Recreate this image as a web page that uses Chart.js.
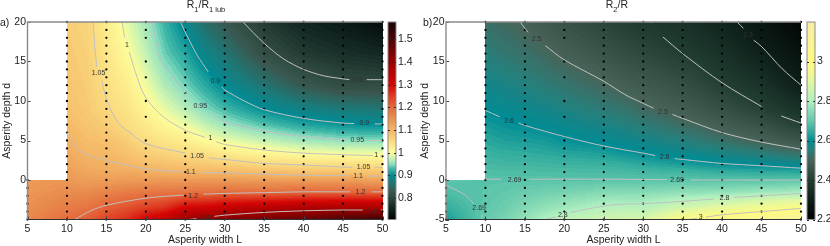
<!DOCTYPE html>
<html>
<head>
<meta charset="utf-8">
<script src="https://cdn.jsdelivr.net/npm/chart.js@4"></script>
<style>
html,body{margin:0;padding:0;background:#fff;width:830px;height:246px;overflow:hidden}
canvas{position:absolute;top:0}
</style>
</head>
<body>
<canvas id="pa" style="left:0" width="415" height="246"></canvas>
<canvas id="ca" style="left:385px" width="33" height="246"></canvas>
<canvas id="pb" style="left:418px" width="412" height="246"></canvas>
<canvas id="cb" style="left:804px" width="26" height="246"></canvas>
<script>
const FONT='"Liberation Sans", Arial, sans-serif';

const widthL=[5,10,12.5,15,17.5,20,22.5,25,27.5,30,35,40,45,50];
const depthD=[-5,-3.5,-1.5,0,1,2,3.5,5,7,9,12,16,20];
const N=null;

// Panel a: R1/R1lub, one column per entry of widthL, ordered as depthD
const a05=[1.16,1.15,1.14,1.135,N,N,N,N,N,N,N,N,N];
const a10=[1.195,1.175,1.155,1.14,1.13,1.125,1.115,1.105,1.095,1.085,1.08,1.075,1.07];
const a12=[1.215,1.185,1.155,1.13,1.12,1.11,1.098,1.09,1.08,1.075,1.07,1.065,1.06];
const a15=[1.24,1.21,1.165,1.13,1.115,1.105,1.095,1.085,1.07,1.055,1.045,1.035,1.025];
const a17=[1.26,1.225,1.175,1.135,1.115,1.098,1.083,1.07,1.048,1.04,1.025,1.005,.99];
const a20=[1.31,1.245,1.18,1.135,1.11,1.09,1.067,1.047,1.03,1.012,.995,.975,.96];
const a22=[1.34,1.26,1.185,1.135,1.105,1.085,1.057,1.035,1.008,.99,.965,.94,.925];
const a25=[1.4,1.305,1.186,1.135,1.1,1.08,1.048,1.023,.993,.97,.943,.918,.89];
const a27=[1.41,1.31,1.19,1.135,1.098,1.075,1.04,1.003,.975,.948,.92,.885,.855];
const a30=[1.43,1.33,1.195,1.135,1.097,1.067,1.026,.993,.957,.93,.895,.865,.83];
const a35=[1.45,1.35,1.195,1.13,1.09,1.054,1.01,.975,.935,.9,.863,.815,.785];
const a40=[1.47,1.365,1.2,1.13,1.085,1.047,.997,.96,.917,.88,.83,.785,.755];
const a45=[1.5,1.375,1.2,1.13,1.08,1.045,.992,.952,.905,.87,.81,.77,.74];
const a50=[1.52,1.375,1.2,1.125,1.08,1.04,.99,.95,.9,.865,.81,.76,.72];
const columnsA=[a05,a10,a12,a15,a17,a20,a22,a25,a27,a30,a35,a40,a45,a50];

// Panel b: R2/R
const b05=[2.62,2.65,2.68,2.695,N,N,N,N,N,N,N,N,N];
const b10=[2.705,2.697,2.693,2.69,2.68,2.67,2.655,2.64,2.618,2.598,2.578,2.55,2.52];
const b12=[2.73,2.715,2.7,2.69,2.678,2.665,2.648,2.628,2.608,2.59,2.568,2.535,2.508];
const b15=[2.765,2.74,2.71,2.69,2.677,2.665,2.645,2.625,2.6,2.583,2.558,2.525,2.495];
const b17=[2.8,2.76,2.718,2.69,2.677,2.663,2.64,2.62,2.593,2.575,2.545,2.51,2.475];
const b20=[2.83,2.78,2.725,2.69,2.676,2.66,2.633,2.607,2.585,2.564,2.532,2.492,2.455];
const b22=[2.845,2.795,2.733,2.69,2.675,2.658,2.63,2.598,2.575,2.553,2.52,2.478,2.44];
const b25=[2.86,2.81,2.742,2.69,2.674,2.655,2.624,2.592,2.567,2.543,2.506,2.462,2.42];
const b27=[2.87,2.815,2.745,2.69,2.672,2.65,2.61,2.585,2.558,2.53,2.49,2.445,2.4];
const b30=[2.875,2.815,2.745,2.69,2.668,2.64,2.6,2.575,2.545,2.51,2.477,2.43,2.385];
const b35=[2.985,2.865,2.755,2.69,2.665,2.625,2.583,2.554,2.515,2.485,2.45,2.4,2.36];
const b40=[3.05,2.91,2.76,2.69,2.65,2.605,2.565,2.525,2.485,2.45,2.405,2.36,2.32];
const b45=[3.08,2.95,2.775,2.69,2.645,2.595,2.545,2.495,2.455,2.41,2.365,2.31,2.27];
const b50=[3.14,2.99,2.785,2.69,2.64,2.585,2.515,2.465,2.405,2.36,2.3,2.26,2.22];
const columnsB=[b05,b10,b12,b15,b17,b20,b22,b25,b27,b30,b35,b40,b45,b50];

// Sampling points: d values measured in each L column
const allD=[-5,-4,-3,-2,-1,0,1,2,3,4,5,6,7,8,9,10,11,12,13,14,15,16,17,18,19,20];
const d5=[-5,-4,-3,-2,-1,0];
const d20=[-5,-4,-3,-2,-1,0,1,2,3,4,5,8,10,13,15,18,19,20];
const dotColumns=[[5,d5],[10,allD],[15,allD],[20,d20],[25,allD],[30,allD],[35,allD],[40,allD],[45,allD],[50,allD]];

// Contours panel a: [L,d], null marks a label gap
const ca080=[[32.3,20],[35,17.3],[37.5,15.3],[40,14],[42.5,13.2],[45,12.8],[45.8,12.7],N,[48,12.7],[50,12.7]];
const ca090=[[24.4,20],[25,18.7],[26.5,15.8],[27.9,13.7],N,[29.6,11.8],[30,11.4],[32.5,10],[35,8.9],[40,7.8],[45,7.2],[46.4,7.15],N,[49,7.1],[50,7.1]];
const ca095=[[20.8,20],[21.8,15.4],[23.5,12.9],[25,11],[25.6,10.4],N,[28.2,8.5],[30,7.4],[35,6.2],[40,5.5],[45,5.1],[45.3,5.1],N,[48.4,5],[50,5]];
const ca100=[[17,20],[17.3,18],N,[17.9,16.2],[18.9,13],[20,10.4],[22.2,8],[25,6.3],[27.5,5.4],N,[28.9,4.85],[30,4.5],[35,3.8],[40,3.4],[45,3.2],[48.8,3.1],N,[49.7,3.05],[50,3]];
const ca105=[[13.3,20],[13.6,16],[13.8,14.3],N,[14.4,12.6],[15.06,10.1],[16.5,7.2],[18,6],[20,4.6],[25,3.4],N,[28,2.8],[30,2.6],[35,2.1],[40,1.9],[45,1.65],[46.2,1.6],N,[49,1.6],[50,1.6]];
const ca110=[[10,6],[11.5,3.8],[13,3],[15,2.5],[20,1.4],[24.5,1.05],N,[27,.95],[30,.9],[35,.75],[40,.6],[45.7,.55],N,[48.1,.5],[50,.5]];
const ca120=[[11,-5],[13,-3.9],[15,-3.2],[20,-2.3],[24.8,-1.9],N,[27.3,-1.8],[30,-1.7],[35,-1.6],[40,-1.5],[45.9,-1.5],N,[48.6,-1.5],[50,-1.5]];
const ca140=[[25.5,-5],[26.4,-4.9],N,[28.7,-4.6],[30,-4.45],[35,-4.1],[40,-3.9],[45,-3.8],[47.5,-3.8],N,[49.8,-3.75],[50,-3.8]];
const contoursA=[ca080,ca090,ca095,ca100,ca105,ca110,ca120,ca140];

// Contours panel b
const cb230=[[41.9,20],[42.7,19.2],N,[44,17.7],[45,16.9],[47.6,14.1],[50,12]];
const cb240=[[30.9,20],[31,19.9],N,[32.5,18.1],[35,16],[40,12.3],[45,9.3],N,[47.5,8.1],[50,7.2]];
const cb250=[[14.4,20],[15,19.2],[15.4,18.7],N,[17.6,17],[20,15.2],[25,12.5],[27.7,10.8],[30,9.7],[31.3,9.1],N,[33.7,8.3],[35,7.8],[40,6],[45,4.8],[50,3.9]];
const cb260=[[10,8.8],[11.8,8],N,[14.2,7.2],[15,6.9],[20,5.5],[25,4.3],[30,3.4],[31.5,3.1],N,[34,2.7],[35,2.6],[40,2.1],[45,1.8],[50,1.5]];
const cb269=[[10,.1],[12,.1],N,[15.5,.1],[25,.1],[33,.05],N,[36,0],[50,0]];
const cb269c=[[5,-.65],[7.4,-1.9],[8.5,-3],N,[9.6,-4.4],[9.5,-5]];
const cb280=[[17.5,-5],[19,-4.65],N,[20.8,-4.1],[25,-3.3],[27.7,-3.05],[30,-3],[35,-2.7],[39,-2.4],N,[41.5,-2.2],[45,-2],[50,-1.7]];
const cb300=[[35.7,-5],[36.8,-4.85],N,[37.9,-4.7],[40,-4.4],[45,-4],[50,-3.6]];
const contoursB=[cb230,cb240,cb250,cb260,cb269,cb269c,cb280,cb300];

// Contour labels [L,d,text]
const labelsA=[[17.6,17.1,'1'],[14,13.5,'1.05'],[28.8,12.5,'0.9'],[26.9,9.35,'0.95'],[28.2,5.3,'1'],[26.5,3,'1.05'],[25.7,1,'1.1'],[26,-2.05,'1.2'],[27.5,-4.85,'1.4'],[46.9,12.65,'0.8'],[47.7,7.2,'0.9'],[46.8,5.05,'0.95'],[49.2,3.15,'1'],[47.6,1.6,'1.05'],[46.9,.5,'1.1'],[47.2,-1.55,'1.2'],[48.7,-3.95,'1.4']];
const labelsB=[[16.5,17.8,'2.5'],[13,7.5,'2.6'],[13.7,.05,'2.69'],[9.2,-3.6,'2.69'],[19.8,-4.5,'2.8'],[31.8,19,'2.4'],[43.3,18.4,'2.3'],[32.5,8.6,'2.5'],[46.1,8.7,'2.4'],[32.7,2.85,'2.6'],[34.3,0,'2.69'],[40.3,-2.3,'2.8'],[37.3,-4.75,'3']];

// Tick labels
const ticksX=[5,10,15,20,25,30,35,40,45,50];
const ticksYA=[0,5,10,15,20];
const ticksYB=[-5,0,5,10,15,20];
const ticksCA=[.8,.9,1,1.1,1.2,1.3,1.4,1.5];
const ticksCB=[2.2,2.4,2.6,2.8,3];
const rangeCA=[.706,1.576];
const rangeCB=[2.2,3.2];

// Colour maps [value, r,g,b]
const cmapA=[[.706,0,2,2],[.75,14,32,28],[.8,44,70,61],[.83,58,88,80],[.87,28,122,120],[.9,0,140,148],[.93,64,184,168],[.95,140,224,192],[.98,208,245,176],[1,253,253,154],[1.05,251,220,128],[1.1,244,181,101],[1.15,234,144,80],[1.2,228,106,60],[1.25,222,58,32],[1.3,213,5,5],[1.4,156,0,0],[1.5,74,5,5],[1.576,28,5,5]];
const cmapB=[[2.2,0,0,0],[2.3,12,30,24],[2.4,34,62,50],[2.5,72,100,88],[2.55,40,126,122],[2.6,0,140,148],[2.65,53,174,158],[2.7,98,200,172],[2.8,176,240,192],[2.9,228,248,160],[3,255,251,128],[3.2,245,238,168]];

function colorOf(map,v){
  if(v<=map[0][0])return map[0];
  for(let i=1;i<map.length;i++){
    if(v<=map[i][0]){
      const a=map[i-1],b=map[i],t=(v-a[0])/(b[0]-a[0]);
      return [v,a[1]+(b[1]-a[1])*t,a[2]+(b[2]-a[2])*t,a[3]+(b[3]-a[3])*t];
    }
  }
  return map[map.length-1];
}
function findCell(arr,v){
  for(let i=0;i<arr.length-1;i++) if(v<=arr[i+1]) return i;
  return arr.length-2;
}
function text(c,s,x,y,font,col,al,bl){
  c.font=font;c.fillStyle=col||'#222';c.textAlign=al||'left';c.textBaseline=bl||'middle';c.fillText(s,x,y);
}

const heatPlugin={id:'heat',beforeDatasetsDraw(chart,args,o){
  const area=chart.chartArea,xs=chart.scales.x,ys=chart.scales.y,c=chart.ctx;
  const x0=Math.round(area.left),y0=Math.round(area.top),w=Math.round(area.right)-x0,h=Math.round(area.bottom)-y0;
  const img=c.createImageData(w,h);
  for(let py=0;py<h;py++){
    const d=ys.getValueForPixel(y0+py+.5),j=findCell(depthD,d);
    const tj=(d-depthD[j])/(depthD[j+1]-depthD[j]);
    for(let px=0;px<w;px++){
      const L=xs.getValueForPixel(x0+px+.5),i=findCell(widthL,L);
      const ti=(L-widthL[i])/(widthL[i+1]-widthL[i]);
      const A=o.cols[i][j],B=o.cols[i+1][j],C=o.cols[i][j+1],D=o.cols[i+1][j+1];
      if(A===null||B===null||C===null||D===null)continue;
      let v=(A*(1-ti)+B*ti)*(1-tj)+(C*(1-ti)+D*ti)*tj;
      v=Math.round(v/o.band)*o.band;
      const col=colorOf(o.map,v),k=(py*w+px)*4;
      img.data[k]=col[1];img.data[k+1]=col[2];img.data[k+2]=col[3];img.data[k+3]=255;
    }
  }
  c.putImageData(img,x0,y0);
},
afterDatasetsDraw(chart,args,o){
  const area=chart.chartArea,xs=chart.scales.x,ys=chart.scales.y,c=chart.ctx;
  o.labels.forEach(l=>text(c,l[2],xs.getPixelForValue(l[0]),ys.getPixelForValue(l[1]),'7px '+FONT,'#333','center'));
  c.save();
  c.strokeStyle='#444';c.lineWidth=1;c.beginPath();
  xs.ticks.forEach(t=>{const p=Math.round(xs.getPixelForValue(t.value))+.5;c.moveTo(p,area.bottom);c.lineTo(p,area.bottom-3);});
  ys.ticks.forEach(t=>{const p=Math.round(ys.getPixelForValue(t.value))+.5;c.moveTo(area.left,p);c.lineTo(area.left+3,p);});
  c.stroke();
  c.strokeStyle='#8a8a8a';c.lineWidth=1.4;c.beginPath();
  c.moveTo(area.left,area.bottom);c.lineTo(area.left,area.top);c.lineTo(area.right,area.top);c.stroke();
  c.strokeStyle='#333';c.lineWidth=1;c.beginPath();
  c.moveTo(area.left,area.bottom);c.lineTo(area.right,area.bottom);c.stroke();
  c.restore();
  o.title(c);
}};

const barPlugin={id:'bar',beforeDatasetsDraw(chart,args,o){
  const area=chart.chartArea,ys=chart.scales.y,c=chart.ctx;
  for(let py=Math.round(area.top);py<Math.round(area.bottom);py++){
    const col=colorOf(o.map,ys.getValueForPixel(py+.5));
    c.fillStyle='rgb('+col[1]+','+col[2]+','+col[3]+')';
    c.fillRect(area.left,py,area.right-area.left,1);
  }
},afterDatasetsDraw(chart){
  const area=chart.chartArea,ys=chart.scales.y,c=chart.ctx;
  c.save();c.strokeStyle='#8a8a8a';c.lineWidth=1;
  c.strokeRect(area.left,area.top,area.right-area.left,area.bottom-area.top);
  c.strokeStyle='#333';c.beginPath();
  ys.ticks.forEach(t=>{const p=Math.round(ys.getPixelForValue(t.value))+.5;c.moveTo(area.right,p);c.lineTo(area.right-2,p);c.moveTo(area.left,p);c.lineTo(area.left+2,p);});
  c.stroke();c.restore();
}};

function panel(id,cols,contours,labels,ticksY,map,band,padR,leftW,title){
  const heat=[];
  widthL.forEach((L,i)=>depthD.forEach((d,j)=>{if(cols[i][j]!==null)heat.push({x:L,y:d,v:cols[i][j]});}));
  const dots=[];
  dotColumns.forEach(dc=>dc[1].forEach(d=>dots.push({x:dc[0],y:d})));
  const ds=[{label:'field',data:heat,pointRadius:0,showLine:false}];
  contours.forEach((ct,i)=>ds.push({label:'contour '+i,data:ct.map(p=>p?{x:p[0],y:p[1]}:{x:null,y:null}),showLine:true,spanGaps:false,tension:.3,borderColor:'#c0c0c0',borderWidth:1,pointRadius:0}));
  ds.push({label:'samples',data:dots,pointRadius:1.15,pointBackgroundColor:'#000',pointBorderWidth:0,showLine:false,clip:false});
  new Chart(document.getElementById(id),{type:'scatter',data:{datasets:ds},plugins:[heatPlugin],options:{
    responsive:false,animation:false,events:[],
    layout:{padding:{top:22,right:padR,left:0,bottom:0}},
    plugins:{legend:{display:false},tooltip:{enabled:false},heat:{cols,map,band,labels,title}},
    scales:{
      x:{type:'linear',min:5,max:50,border:{display:false},grid:{display:false,drawTicks:false},
        afterBuildTicks:s=>{s.ticks=ticksX.map(v=>({value:v}));},
        afterFit:s=>{s.height=26.5;},
        ticks:{autoSkip:false,maxRotation:0,padding:3.5,color:'#222',font:{family:FONT,size:10.5}},
        title:{display:true,text:'Asperity width L',color:'#222',font:{family:FONT,size:10.5},padding:{top:0,bottom:0}}},
      y:{type:'linear',min:-5,max:20,border:{display:false},grid:{display:false,drawTicks:false},
        afterBuildTicks:s=>{s.ticks=ticksY.map(v=>({value:v}));},
        afterFit:s=>{s.width=leftW;},
        ticks:{autoSkip:false,padding:1.5,color:'#222',font:{family:FONT,size:10.5}},
        title:{display:true,text:'Asperity depth d',color:'#222',font:{family:FONT,size:10.5},padding:{top:1,bottom:0}}}
    }}});
}
function bar(id,map,range,ticks,fmt){
  new Chart(document.getElementById(id),{type:'scatter',data:{datasets:[{label:'colour scale',data:ticks.map(v=>({x:0,y:v})),pointRadius:0}]},plugins:[barPlugin],options:{
    responsive:false,animation:false,events:[],
    layout:{padding:{top:22,left:3,right:0,bottom:26.5}},
    plugins:{legend:{display:false},tooltip:{enabled:false},bar:{map}},
    scales:{
      x:{type:'linear',display:false,min:0,max:1},
      y:{type:'linear',position:'right',min:range[0],max:range[1],border:{display:false},grid:{display:false,drawTicks:false},
        afterBuildTicks:s=>{s.ticks=ticks.map(v=>({value:v}));},
        afterFit:s=>{s.width=s.chart.width-11;},
        ticks:{autoSkip:false,padding:2,color:'#222',font:{family:FONT,size:10.5},callback:v=>String(v)}}
    }}});
}
panel('pa',columnsA,contoursA,labelsA,ticksYA,cmapA,.006,32.5,27.5,c=>{
  const f='10.5px '+FONT,s='7.5px '+FONT;
  text(c,'R',186.7,8,f,'#222','left','alphabetic');text(c,'1',194.3,11.5,s,'#222','left','alphabetic');
  text(c,'/R',198.5,8,f,'#222','left','alphabetic');text(c,'1 lub',209,11.5,s,'#222','left','alphabetic');
  text(c,'a)',0,23,'10.5px '+FONT,'#222');
});
panel('pb',columnsB,contoursB,labelsB,ticksYB,cmapB,.008,29,28,c=>{
  const f='10.5px '+FONT,s='7.5px '+FONT;
  text(c,'R',187.7,8,f,'#222','left','alphabetic');text(c,'2',195.3,11.5,s,'#222','left','alphabetic');
  text(c,'/R',199.5,8,f,'#222','left','alphabetic');
  text(c,'b)',5,23,'10.5px '+FONT,'#222');
});
bar('ca',cmapA,rangeCA,ticksCA);
bar('cb',cmapB,rangeCB,ticksCB);
</script>
</body>
</html>
